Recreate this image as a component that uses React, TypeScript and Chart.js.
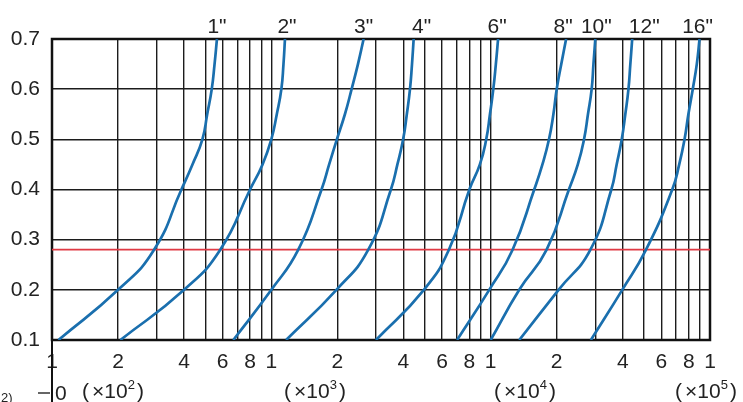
import React, { useEffect, useRef } from "react";
import { Chart, registerables } from "chart.js";

Chart.register(...registerables);

// ---- data ----
const yLevels = [0.1, 0.2, 0.28, 0.4, 0.45, 0.5, 0.55, 0.6, 0.65, 0.7];
const pipeSizes = ['1"', '2"', '3"', '4"', '6"', '8"', '10"', '12"', '16"'];
const flow1in = [107, 200, 292, 389, 437, 485, 510, 535, 551, 565];
const flow2in = [205, 400, 585, 800, 912, 1000, 1059, 1111, 1136, 1154];
const flow3in = [671, 1000, 1327, 1694, 1835, 1990, 2165, 2323, 2483, 2635];
const flow4in = [1168, 1980, 2767, 3509, 3757, 3990, 4147, 4287, 4379, 4456];
const flow6in = [3000, 4960, 6450, 8000, 8930, 9545, 9925, 10280, 10560, 10810];
const flow8in = [7030, 9850, 12590, 15800, 17220, 18450, 19320, 20000, 20990, 22080];
const flow10in = [10000, 13500, 18000, 22740, 24970, 26650, 27770, 28870, 29420, 30000];
const flow12in = [13500, 20400, 28500, 35500, 37540, 39600, 41100, 42480, 43330, 44190];
const flow16in = [28630, 39800, 51100, 67300, 72400, 76550, 79700, 83450, 87060, 89600];
const flowSeries = [flow1in, flow2in, flow3in, flow4in, flow6in, flow8in, flow10in, flow12in, flow16in];

const redLineY = 0.28;
const xMin = 100;
const xMax = 100000;
const yMin = 0.1;
const yMax = 0.7;
const xGridValues = [
  100, 200, 300, 400, 500, 600, 700, 800, 900,
  1000, 2000, 3000, 4000, 5000, 6000, 7000, 8000, 9000,
  10000, 20000, 30000, 40000, 50000, 60000, 70000, 80000, 90000,
  100000,
];
const xTickLabels = [
  "1", "2", "", "4", "", "6", "", "8", "",
  "1", "2", "", "4", "", "6", "", "8", "",
  "1", "2", "", "4", "", "6", "", "8", "",
  "1",
];
const multiplierExponents = ["2", "3", "4", "5"];

// ---- styling / layout ----
const FONT = "'Liberation Sans', Arial, sans-serif";
const TEXT_COLOR = "#222";
const GRID_COLOR = "#1c1c1c";
const CURVE_COLOR = "#1a6fae";
const RED_COLOR = "#e03a44";
const TOP_LABEL_NUDGE = [0, 2, 0, 8, -1, -3, 1, 12, -2];
const MULT_CENTERS = [113, 315, 525, 706];

const extrasPlugin = {
  id: "extras",
  beforeDatasetsDraw(chart: any) {
    const { ctx, chartArea } = chart;
    ctx.save();
    ctx.strokeStyle = "#111";
    ctx.lineWidth = 2.5;
    ctx.strokeRect(chartArea.left, chartArea.top, chartArea.right - chartArea.left, chartArea.bottom - chartArea.top);
    ctx.lineWidth = 2;
    ctx.beginPath();
    ctx.moveTo(chartArea.left, chartArea.bottom);
    ctx.lineTo(chartArea.left, chart.height);
    ctx.stroke();
    ctx.lineWidth = 1.5;
    ctx.strokeStyle = "#333";
    ctx.beginPath();
    ctx.moveTo(38, 393);
    ctx.lineTo(50, 393);
    ctx.stroke();
    ctx.restore();
  },
  afterDraw(chart: any) {
    const { ctx } = chart;
    const xs = chart.scales.x;
    ctx.save();
    ctx.fillStyle = TEXT_COLOR;
    ctx.font = `21px ${FONT}`;
    ctx.textAlign = "center";
    ctx.textBaseline = "alphabetic";
    flowSeries.forEach((s, i) => {
      const px = xs.getPixelForValue(s[s.length - 1]) + TOP_LABEL_NUDGE[i];
      ctx.fillText(pipeSizes[i], px, 33);
    });
    ctx.textAlign = "left";
    multiplierExponents.forEach((e, i) => {
      ctx.font = `21px ${FONT}`;
      const wOpen = ctx.measureText("(").width;
      const wMain = ctx.measureText("×10").width;
      const wClose = ctx.measureText(")").width;
      ctx.font = `13px ${FONT}`;
      const wSup = ctx.measureText(e).width;
      const total = wOpen + 3 + wMain + wSup + 2 + wClose;
      let x = MULT_CENTERS[i] - total / 2;
      ctx.font = `21px ${FONT}`;
      ctx.fillText("(", x, 398);
      x += wOpen + 3;
      ctx.fillText("×10", x, 398);
      x += wMain;
      ctx.font = `13px ${FONT}`;
      ctx.fillText(e, x, 389);
      x += wSup + 2;
      ctx.font = `21px ${FONT}`;
      ctx.fillText(")", x, 398);
    });
    ctx.font = `21px ${FONT}`;
    ctx.fillText("0", 55, 400);
    ctx.font = `13px ${FONT}`;
    ctx.fillText("2)", 1, 402);
    ctx.restore();
  },
};

export default function App() {
  const canvasRef = useRef<HTMLCanvasElement | null>(null);

  useEffect(() => {
    if (!canvasRef.current) return;
    const datasets: any[] = flowSeries.map((s, i) => ({
      label: pipeSizes[i],
      data: s.map((x, j) => ({ x, y: yLevels[j] })),
      borderColor: CURVE_COLOR,
      backgroundColor: CURVE_COLOR,
      borderWidth: 2.7,
      pointRadius: 0,
      tension: 0.5,
      fill: false,
      order: 1,
    }));
    datasets.push({
      label: "limit",
      data: [
        { x: xMin, y: redLineY },
        { x: xMax, y: redLineY },
      ],
      borderColor: RED_COLOR,
      borderWidth: 1.8,
      pointRadius: 0,
      tension: 0,
      fill: false,
      order: 10,
    });

    const chart = new Chart(canvasRef.current, {
      type: "line",
      data: { datasets },
      plugins: [extrasPlugin],
      options: {
        animation: false,
        responsive: true,
        maintainAspectRatio: false,
        layout: { padding: { top: 39, right: 33, left: 0, bottom: 0 } },
        plugins: { legend: { display: false }, tooltip: { enabled: false } },
        scales: {
          x: {
            type: "logarithmic",
            position: "bottom",
            min: xMin,
            max: xMax,
            afterBuildTicks: (scale: any) => {
              scale.ticks = xGridValues.map((v) => ({ value: v }));
            },
            afterFit: (scale: any) => {
              scale.height = 62;
            },
            ticks: {
              autoSkip: false,
              maxRotation: 0,
              minRotation: 0,
              padding: 10,
              color: TEXT_COLOR,
              font: { family: FONT, size: 21 },
              callback: (_v: any, i: number) => xTickLabels[i],
            },
            grid: { color: GRID_COLOR, lineWidth: 1.4, drawTicks: false },
            border: { display: false },
          },
          y: {
            type: "linear",
            position: "left",
            min: yMin,
            max: yMax,
            afterFit: (scale: any) => {
              scale.width = 52;
            },
            ticks: {
              stepSize: 0.1,
              padding: 12,
              color: TEXT_COLOR,
              font: { family: FONT, size: 21 },
              callback: (v: any) => Number(v).toFixed(1),
            },
            grid: { color: GRID_COLOR, lineWidth: 1.4, drawTicks: false },
            border: { display: false },
          },
        },
      },
    });
    return () => chart.destroy();
  }, []);

  return (
    <div style={{ position: "absolute", left: 0, top: 0, width: 743, height: 402, background: "#fff" }}>
      <canvas ref={canvasRef} />
    </div>
  );
}
